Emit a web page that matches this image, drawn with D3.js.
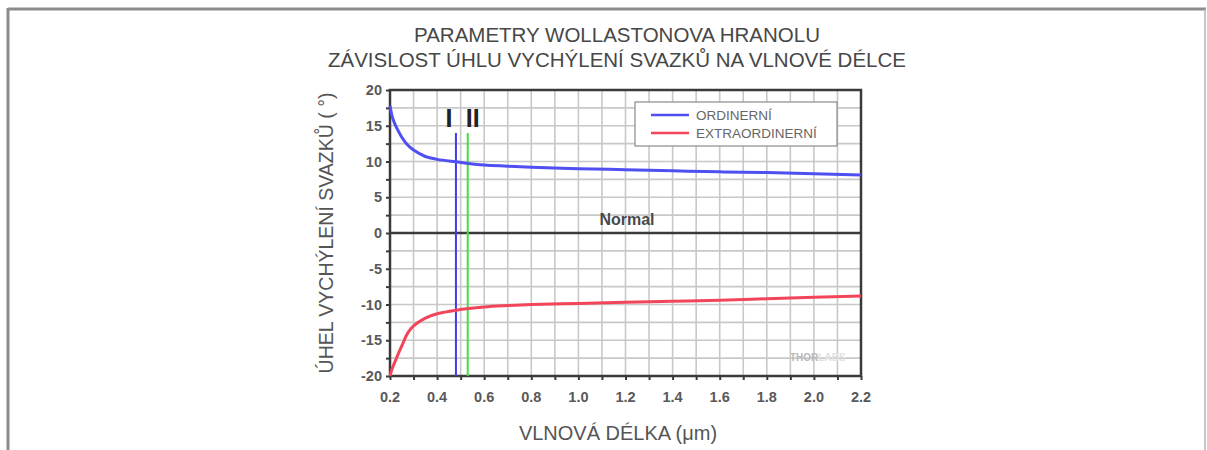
<!DOCTYPE html>
<html>
<head>
<meta charset="utf-8">
<script src="https://cdn.jsdelivr.net/npm/d3@7"></script>
<style>
  html, body { margin: 0; padding: 0; background: #fff; }
  svg { display: block; font-family: "Liberation Sans", Arial, sans-serif; }
</style>
</head>
<body>
<svg id="chart" width="1207" height="450"></svg>
<script>
// Wavelength samples (µm) and beam deflection angles (degrees)
const wavelengths = [0.2, 0.205, 0.21, 0.22, 0.23, 0.25, 0.275, 0.3, 0.35, 0.4, 0.48, 0.6, 0.7, 0.8, 1.0, 1.2, 1.4, 1.6, 1.8, 2.0, 2.2];
const ordinaryDeg = [17.8, 16.9, 16.2, 15.3, 14.6, 13.4, 12.3, 11.6, 10.7, 10.3, 9.95, 9.5, 9.35, 9.2, 9.0, 8.85, 8.7, 8.55, 8.45, 8.3, 8.1];
const extraDeg    = [-20.0, -19.4, -18.9, -18.1, -17.3, -15.8, -14.0, -13.0, -11.9, -11.3, -10.8, -10.35, -10.15, -10.0, -9.85, -9.7, -9.55, -9.4, -9.2, -9.0, -8.8];

const seriesNames  = ["ORDINERNÍ", "EXTRAORDINERNÍ"];
const seriesColors = ["#4f4ff2", "#f2455a"];

// Laser lines marked on the plot
const markerWl     = [0.48, 0.53];
const markerLabels = ["I", "II"];
const markerColors = ["#3c3cf0", "#44dd44"];

const xTicks = d3.range(0.2, 2.2001, 0.1).map(v => +v.toFixed(2));
const xLabels = d3.range(0.2, 2.2001, 0.2).map(v => +v.toFixed(1));
const yTicks = d3.range(-20, 20.001, 2.5);
const yLabels = d3.range(-20, 20.001, 5);

const titleLines = ["PARAMETRY WOLLASTONOVA HRANOLU", "ZÁVISLOST ÚHLU VYCHÝLENÍ SVAZKŮ NA VLNOVÉ DÉLCE"];
const xTitle = "VLNOVÁ DÉLKA (μm)";
const yTitle = "ÚHEL VYCHÝLENÍ SVAZKŮ ( °)";

const svg = d3.select("#chart");

// outer frame
svg.append("line").attr("x1", 8).attr("x2", 1206).attr("y1", 9).attr("y2", 9)
  .attr("stroke", "#8c8c8c").attr("stroke-width", 3);
svg.append("line").attr("x1", 8).attr("x2", 8).attr("y1", 8).attr("y2", 450)
  .attr("stroke", "#8c8c8c").attr("stroke-width", 3);
svg.append("line").attr("x1", 1205).attr("x2", 1205).attr("y1", 9).attr("y2", 450)
  .attr("stroke", "#b5b5b5").attr("stroke-width", 1.5);

const x = d3.scaleLinear().domain([0.2, 2.2]).range([390, 861]);
const y = d3.scaleLinear().domain([-20, 20]).range([376, 90]);

// titles
svg.append("g").selectAll("text").data(titleLines).join("text")
  .attr("x", 617).attr("y", (d, i) => 42 + i * 25)
  .attr("text-anchor", "middle").attr("font-size", 20.5).attr("fill", "#474747")
  .text(d => d);

// grid
const grid = svg.append("g").attr("stroke", "#c8c8c8").attr("stroke-width", 1.6);
grid.selectAll(".gx").data(xTicks.slice(1, -1)).join("line")
  .attr("x1", d => x(d)).attr("x2", d => x(d)).attr("y1", y(20)).attr("y2", y(-20));
grid.selectAll(".gy").data(yTicks.slice(1, -1)).join("line")
  .attr("x1", x(0.2)).attr("x2", x(2.2)).attr("y1", d => y(d)).attr("y2", d => y(d));

// axes with ticks
const xAxis = svg.append("g").attr("transform", `translate(0,${y(-20)})`)
  .call(d3.axisBottom(x).tickValues(xTicks).tickSize(4).tickFormat(""));
const yAxis = svg.append("g").attr("transform", `translate(${x(0.2)},0)`)
  .call(d3.axisLeft(y).tickValues(yTicks).tickSize(4).tickFormat(""));
[xAxis, yAxis].forEach(a => {
  a.select(".domain").remove();
  a.selectAll(".tick line").attr("stroke", "#3a3a3a").attr("stroke-width", 2);
});

// tick labels
svg.append("g").selectAll("text").data(xLabels).join("text")
  .attr("x", d => x(d)).attr("y", y(-20) + 26)
  .attr("text-anchor", "middle").attr("font-size", 14.5).attr("font-weight", "bold")
  .attr("fill", "#595959").text(d => d.toFixed(1));
svg.append("g").selectAll("text").data(yLabels).join("text")
  .attr("x", x(0.2) - 8).attr("y", d => y(d) + 5)
  .attr("text-anchor", "end").attr("font-size", 14.5).attr("font-weight", "bold")
  .attr("fill", "#595959").text(d => d);

// plot frame and zero line
svg.append("rect").attr("x", x(0.2)).attr("y", y(20))
  .attr("width", x(2.2) - x(0.2)).attr("height", y(-20) - y(20))
  .attr("fill", "none").attr("stroke", "#3a3a3a").attr("stroke-width", 2.5);
svg.append("line").attr("x1", x(0.2)).attr("x2", x(2.2)).attr("y1", y(0)).attr("y2", y(0))
  .attr("stroke", "#3a3a3a").attr("stroke-width", 2.5);

// axis titles
svg.append("text").attr("x", 618).attr("y", 440).attr("text-anchor", "middle")
  .attr("font-size", 20).attr("fill", "#555").text(xTitle);
svg.append("text").attr("transform", `translate(333,${(y(20) + y(-20)) / 2}) rotate(-90)`)
  .attr("text-anchor", "middle").attr("font-size", 19.5).attr("fill", "#555").text(yTitle);

// "Normal" annotation and watermark
svg.append("text").attr("x", 627).attr("y", 225).attr("text-anchor", "middle")
  .attr("font-size", 16).attr("font-weight", "bold").attr("fill", "#4a4a4a").text("Normal");
const wm = svg.append("text").attr("x", 790).attr("y", 361).attr("font-size", 10)
  .attr("font-weight", "bold");
wm.append("tspan").attr("fill", "#b8b8b8").text("THOR");
wm.append("tspan").attr("fill", "#e2e2e2").text("LABS");

// marker lines
svg.append("g").selectAll("line").data(markerWl).join("line")
  .attr("x1", d => x(d)).attr("x2", d => x(d)).attr("y1", 133).attr("y2", y(-20))
  .attr("stroke", (d, i) => markerColors[i]).attr("stroke-width", 2);
svg.append("g").selectAll("text").data(markerWl).join("text")
  .attr("x", (d, i) => x(d) + (i === 0 ? -7 : 5)).attr("y", 127)
  .attr("text-anchor", "middle").attr("font-size", 25).attr("font-weight", "bold")
  .attr("fill", "#222")
  .text((d, i) => markerLabels[i]);

// curves
const line = d3.line().x(d => x(d[0])).y(d => y(d[1])).curve(d3.curveCatmullRom.alpha(0.5));
[ordinaryDeg, extraDeg].forEach((vals, i) => {
  svg.append("path").datum(wavelengths.map((w, k) => [w, vals[k]]))
    .attr("d", line).attr("fill", "none")
    .attr("stroke", seriesColors[i]).attr("stroke-width", 3)
    .attr("stroke-linejoin", "round");
});

// legend
const lg = svg.append("g");
lg.append("rect").attr("x", 635).attr("y", 102).attr("width", 202).attr("height", 44)
  .attr("fill", "#fff").attr("stroke", "#8a8a8a").attr("stroke-width", 1.2);
seriesNames.forEach((name, i) => {
  lg.append("line").attr("x1", 651).attr("x2", 689).attr("y1", 115 + i * 18).attr("y2", 115 + i * 18)
    .attr("stroke", seriesColors[i]).attr("stroke-width", 2.6);
  lg.append("text").attr("x", 696).attr("y", 120 + i * 18).attr("font-size", 13.5)
    .attr("fill", "#666").text(name);
});
</script>
</body>
</html>
